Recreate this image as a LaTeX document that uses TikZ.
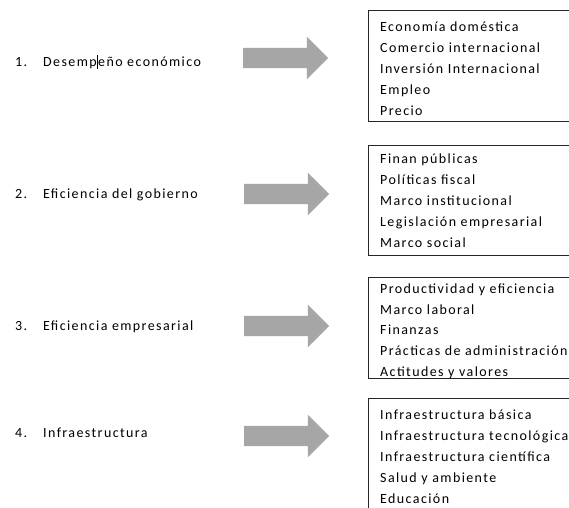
\documentclass[tikz,border=0pt]{standalone}
\usepackage{fontspec}
\setmainfont{Carlito}
\usetikzlibrary{shapes.arrows}
\definecolor{arrowgray}{HTML}{A6A6A6}
\newcommand\wordfont{\fontsize{14}{21}\selectfont\addfontfeature{LetterSpace=10}}
\tikzset{
  itemlabel/.style={anchor=base west, inner sep=0pt, font=\wordfont},
  % anchored at the baseline of the last line of the list
  listtext/.style={anchor=base west, inner sep=0pt, align=left, font=\wordfont},
  listbox/.style={draw=black!85, line width=0.8pt, anchor=north west, inner sep=0pt, minimum width=240pt},
  blockarrow/.style={single arrow, fill=arrowgray, draw=none, inner sep=0pt,
    text height=10pt, text depth=10pt,
    minimum height=85pt, single arrow head extend=11pt,
    single arrow head indent=0pt}
}
\begin{document}
\begin{tikzpicture}[x=1pt,y=-1pt]
\useasboundingbox (0,0) rectangle (569,507);
\fill[white] (0,0) rectangle (569,507);
\clip (0,0) rectangle (569,507);

% left-hand headings
\node[itemlabel] (h1) at (15,66) {\makebox[28pt][l]{1.}Desempeño económico};
\node[itemlabel] (h2) at (15,198) {\makebox[28pt][l]{2.}Eficiencia del gobierno};
\node[itemlabel] (h3) at (15,330) {\makebox[28pt][l]{3.}Eficiencia empresarial};
\node[itemlabel] (h4) at (15,437) {\makebox[28pt][l]{4.}Infraestructura};
% text cursor inside the first heading
\draw[line width=0.7pt] (97.5,55) -- (97.5,69);

% block arrows
\node[blockarrow] (a1) at (280.5,58) {};
\node[blockarrow] (a2) at (281.5,194) {};
\node[blockarrow] (a3) at (281.5,326) {};
\node[blockarrow] (a4) at (281.5,436) {};

% framed lists
\node[listbox, minimum height=111pt] (b1) at (368,10) {};
\node[listbox, minimum height=110pt] (b2) at (368,145) {};
\node[listbox, minimum height=101pt] (b3) at (368,277) {};
\node[listbox, minimum height=130pt] (b4) at (368,398) {};

\node[listtext] (t1) at (380,115) {Economía doméstica\\Comercio internacional\\Inversión Internacional\\Empleo\\Precio};
\node[listtext] (t2) at (380,247) {Finan públicas\\Políticas fiscal\\Marco institucional\\Legislación empresarial\\Marco social};
\node[listtext, font=\wordfont\linespread{0.99}\selectfont] (t3) at (380,376.5) {Productividad y eficiencia\\Marco laboral\\Finanzas\\Prácticas de administración\\Actitudes y valores};
\node[listtext] (t4) at (380,503) {Infraestructura básica\\Infraestructura tecnológica\\Infraestructura científica\\Salud y ambiente\\Educación};
\end{tikzpicture}
\end{document}
